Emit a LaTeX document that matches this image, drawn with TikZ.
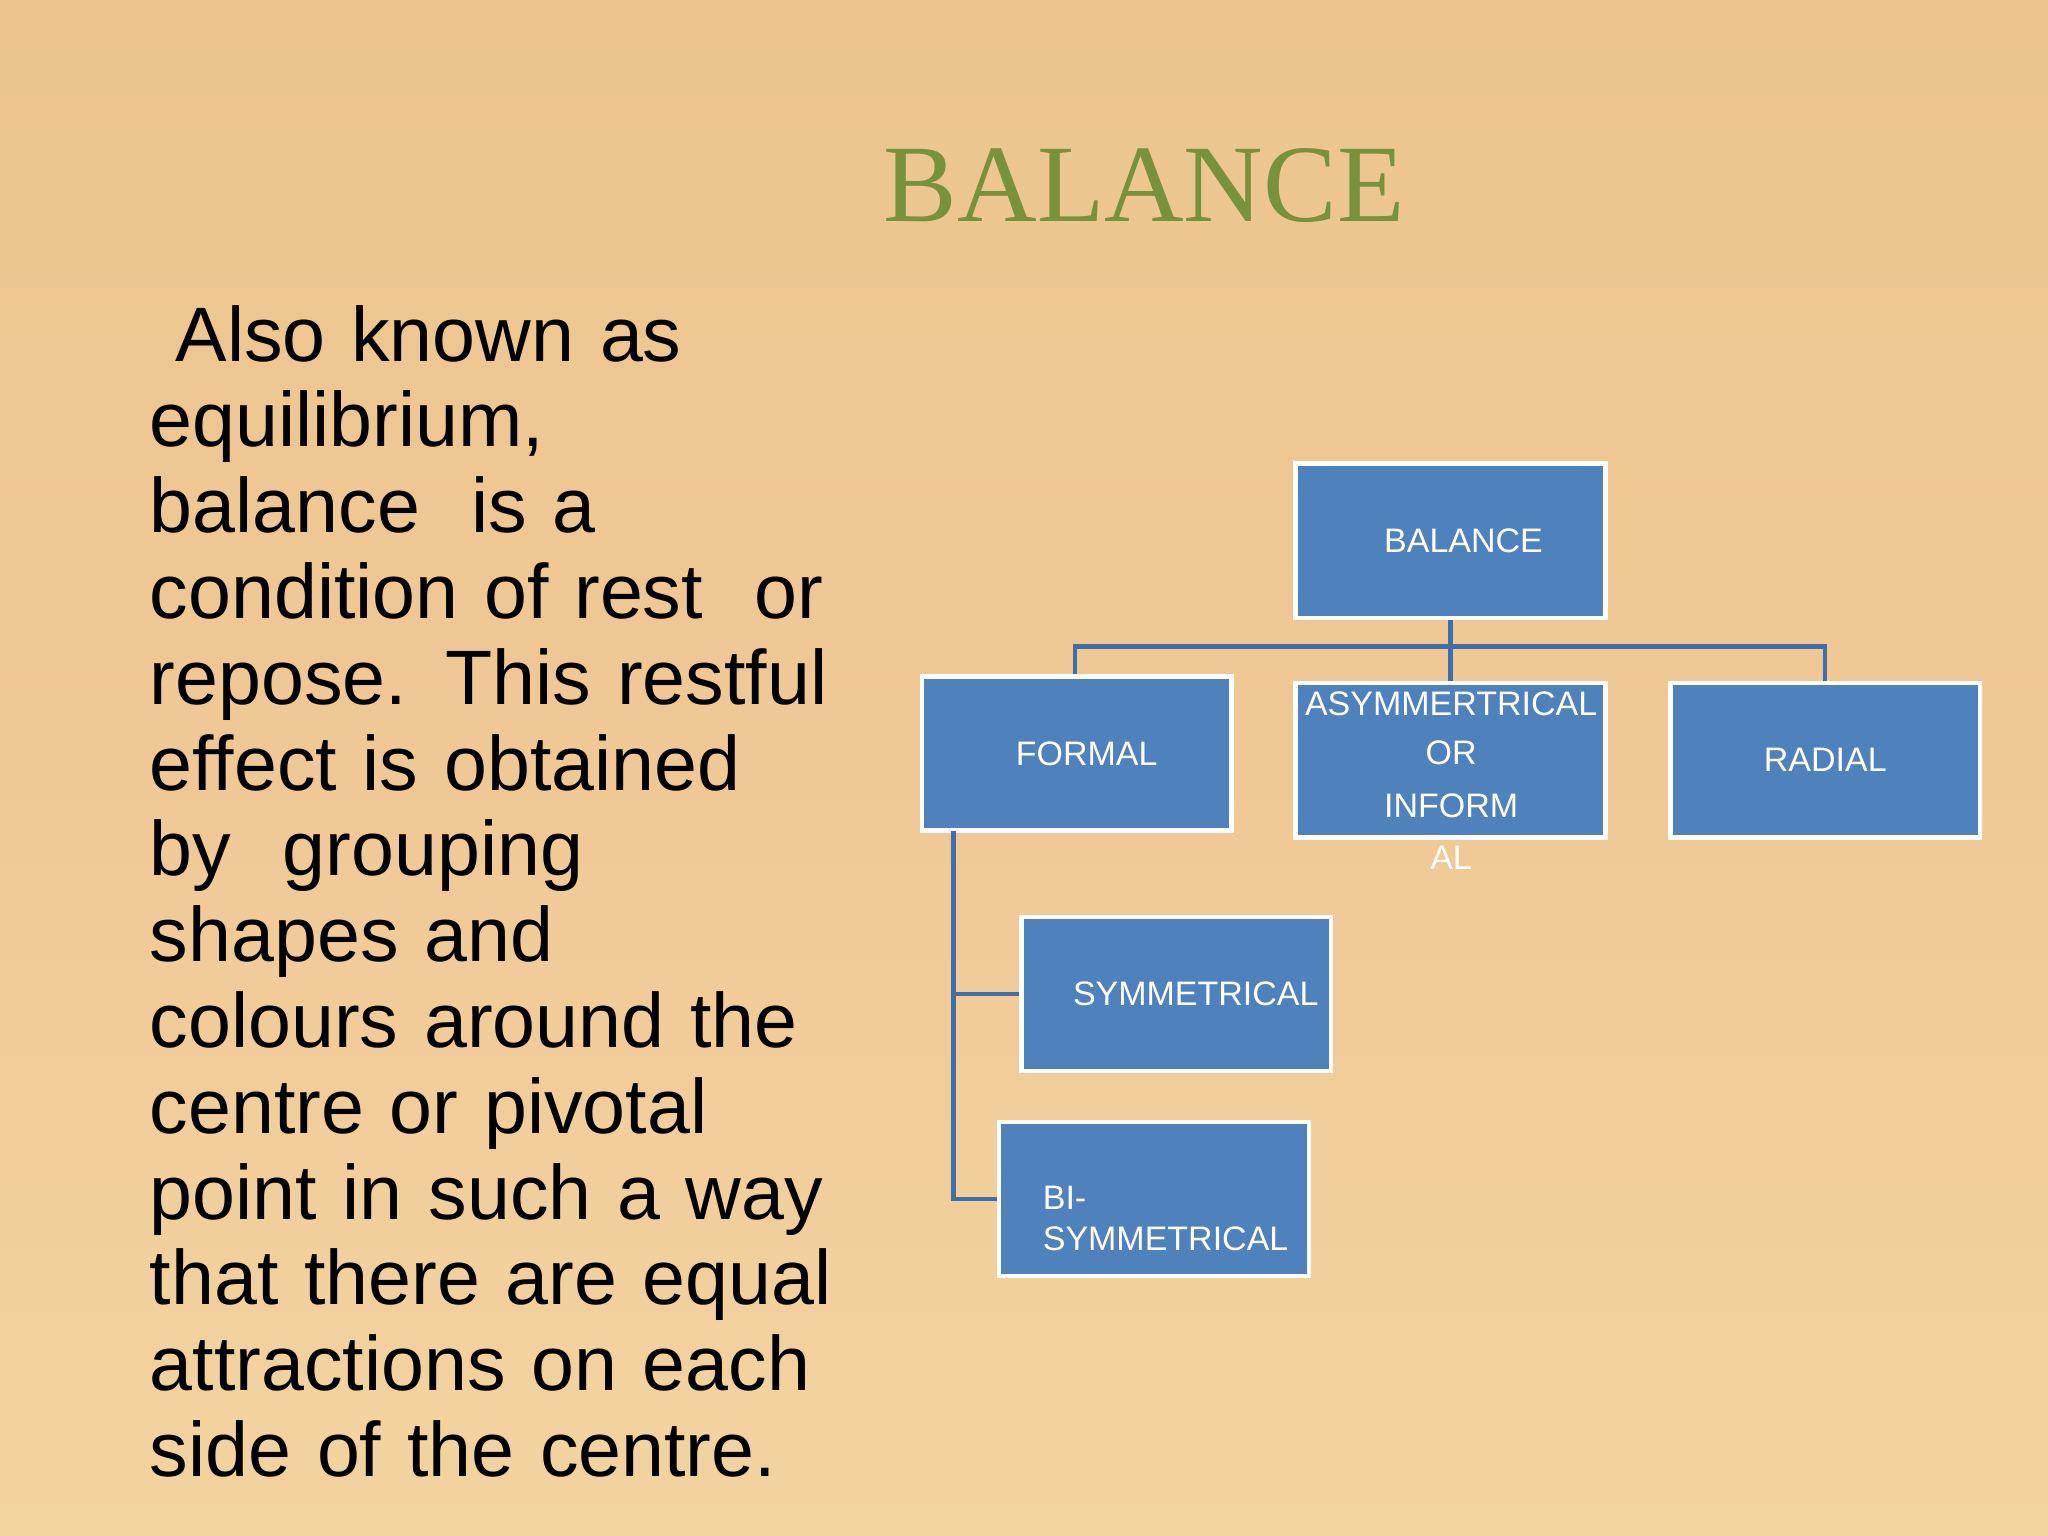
\documentclass[tikz,border=0pt]{standalone}
\usepackage{fontspec}
\setmainfont{Liberation Sans}
\newfontfamily\titlefont{Liberation Serif}
\definecolor{bxfill}{HTML}{4F81BD}
\definecolor{lnc}{HTML}{3F6FA8}
\definecolor{ttl}{HTML}{76923C}
\begin{document}
\begin{tikzpicture}[x=0.01cm,y=-0.01cm,
  bx/.style={draw=white,line width=1pt,fill=bxfill,text=white,font=\fontsize{7.4}{9}\selectfont},
  ln/.style={draw=lnc,line width=0.9pt}]
\shade[top color={rgb,255:red,236;green,196;blue,140},bottom color={rgb,255:red,242;green,212;blue,160},middle color={rgb,255:red,240;green,200;blue,150}] (0,0) rectangle (1568,1176);
\useasboundingbox (0,0) rectangle (1568,1176);
\node[text=ttl,font=\titlefont\fontsize{24}{30}\selectfont] (title) at (876,142) {BALANCE};
\node[anchor=north west,align=left,text width=8cm,font=\fontsize{16.8}{18.68}\selectfont,inner sep=0pt] (body) at (114,233) {\ Also known as\\equilibrium,\\balance \ is a\\condition of rest \ or\\repose. This restful\\effect is obtained\\by \ grouping\\shapes and\\colours around the\\centre or pivotal\\point in such a way\\that there are equal\\attractions on each\\side of the centre.};
\tikzset{b/.style={bx,minimum width=2.37cm,minimum height=1.18cm,inner sep=0pt}}
\node[b] (bal) at (1110.5,414) {\hspace*{0.2cm}BALANCE};
\node[b] (for) at (824.5,577) {\hspace*{0.15cm}FORMAL};
\node[b] (asy) at (1110.5,582) {};
\node[b] (rad) at (1397.5,582) {RADIAL};
\node[b] (sym) at (900.5,761) {\hspace*{0.3cm}SYMMETRICAL};
\node[b] (bis) at (883.5,918) {};
\node[text=white,font=\fontsize{7.4}{9}\selectfont,align=center] (asyt) at (1111,598) {ASYMMERTRICAL\\[1.5pt]OR\\[2.5pt]INFORM\\[2.5pt]AL};
\node[text=white,font=\fontsize{7.4}{9}\selectfont,align=left,anchor=west] (bist) at (786,933) {BI-\\SYMMETRICAL};
\coordinate (j) at (1110.5,495);
\draw[ln] (bal.south) -- (j);
\draw[ln] (j) -| (for.north -| 823,0);
\draw[ln] (j) -| (asy.north);
\draw[ln] (j) -| (rad.north);
\coordinate (t) at (730,636);
\draw[ln] (t) |- (bis.west);
\draw[ln] (t |- sym.west) -- (sym.west);
\end{tikzpicture}
\end{document}
